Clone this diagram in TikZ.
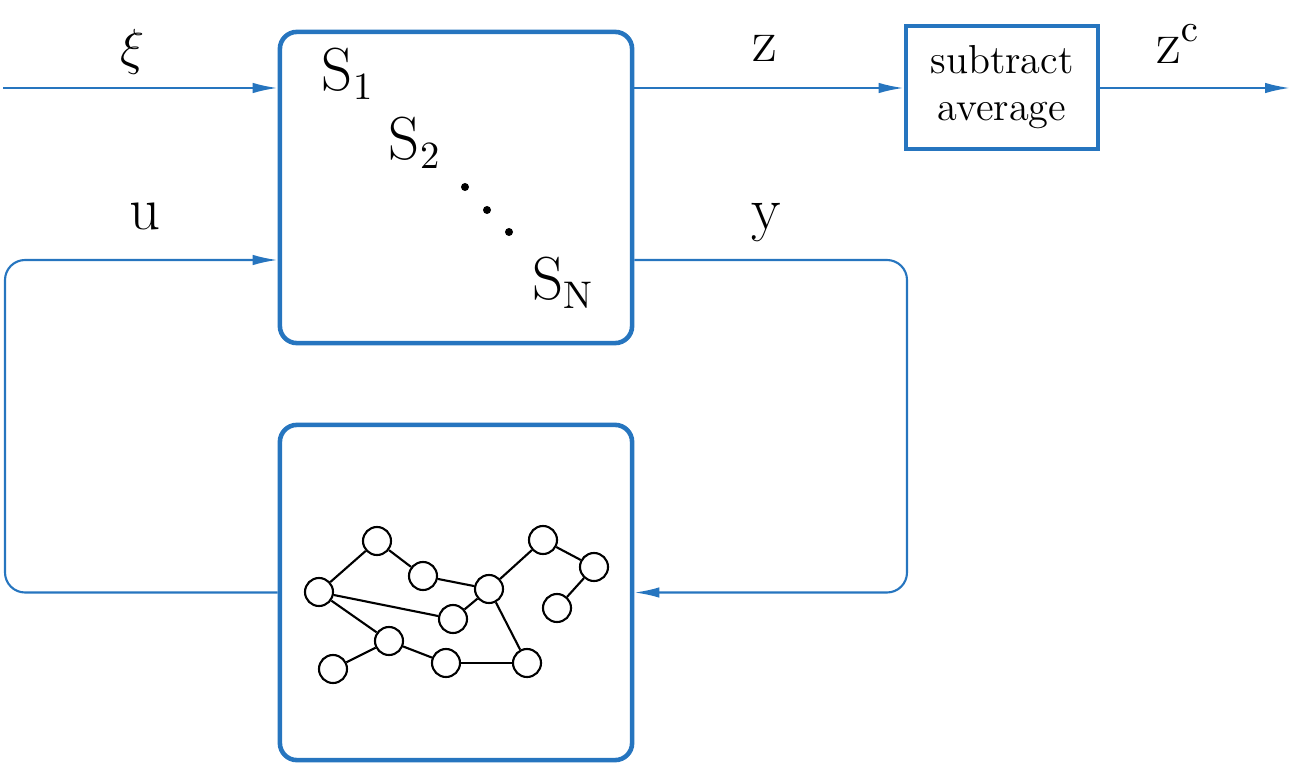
\documentclass[tikz,border=0pt]{standalone}
\usetikzlibrary{arrows.meta}
\definecolor{sigblue}{RGB}{38,117,191}
\begin{document}
\begin{tikzpicture}[x=0.01cm,y=-0.01cm,
    blockbox/.style={draw=sigblue,line width=1.3pt,rounded corners=0.17cm,minimum width=3.52cm,inner sep=0pt},
    sig/.style={draw=sigblue,line width=0.6pt,-{Latex[length=2.5mm,width=1.05mm]}},
    vertex/.style={circle,draw,line width=0.6pt,minimum size=0.28cm,inner sep=0pt,fill=white},
    dot/.style={circle,fill,inner sep=0pt,minimum size=0.08cm},
    lbl/.style={font=\fontsize{16}{19}\selectfont,inner sep=0pt}]
  \useasboundingbox (0,0) rectangle (1294,767);
  % Blocks
  \node[blockbox,minimum height=3.11cm] (sys) at (456,187.5) {};
  \node[blockbox,minimum height=3.35cm] (net) at (456,592.5) {};
  \node[draw=sigblue,line width=1.3pt,minimum width=1.92cm,minimum height=1.23cm,
        align=center,font=\fontsize{11.5}{13.4}\selectfont,inner sep=0pt] (avg) at (1002,87.5) {subtract\\ average};
  % Subsystems
  \node[lbl] (s1) at (348,74) {$\mathrm{S}_1$};
  \node[lbl] (s2) at (415,143) {$\mathrm{S}_2$};
  \node[dot] (d1) at (465,187) {};
  \node[dot] (d2) at (487,210) {};
  \node[dot] (d3) at (509,232) {};
  \node[lbl] (sn) at (563,283) {$\mathrm{S}_\mathrm{N}$};
  % Signal levels
  \coordinate (zlev) at (0,88);
  \coordinate (ylev) at (0,260);
  \coordinate (xiin) at (3,88);
  \coordinate (zcout) at (1290,88);
  \coordinate (uturn) at (5,425);
  \coordinate (yturn) at (907,425);
  % Signals
  \draw[sig] (xiin) -- (sys.west |- zlev);
  \draw[sig] (sys.east |- zlev) -- (avg.west |- zlev);
  \draw[sig] (avg.east |- zlev) -- (zcout);
  \draw[sig,rounded corners=0.2cm] (net.west) -| (uturn) |- (sys.west |- ylev);
  \draw[sig,rounded corners=0.2cm] (sys.east |- ylev) -| (yturn) |- (net.east);
  % Labels
  \node[lbl,font=\fontsize{14}{17}\selectfont] (xi) at (133,52) {$\xi$};
  \node[lbl] (u) at (145,216) {$\mathrm{u}$};
  \node[lbl] (z) at (765,48) {$\mathrm{z}$};
  \node[lbl] (y) at (767,222) {$\mathrm{y}$};
  \node[lbl] (zc) at (1178,44) {$\mathrm{z}^\mathrm{c}$};
  % Network graph
  \node[vertex] (1) at (377,541) {};
  \node[vertex] (2) at (423,576) {};
  \node[vertex] (3) at (319,592) {};
  \node[vertex] (4) at (489,589) {};
  \node[vertex] (5) at (453,619) {};
  \node[vertex] (6) at (543,540) {};
  \node[vertex] (7) at (594,567) {};
  \node[vertex] (8) at (557,608) {};
  \node[vertex] (9) at (389,641) {};
  \node[vertex] (10) at (333,669) {};
  \node[vertex] (11) at (446,663) {};
  \node[vertex] (12) at (527,663) {};
  % Edges
  \draw[line width=0.6pt] (3) -- (1);
  \draw[line width=0.6pt] (1) -- (2);
  \draw[line width=0.6pt] (2) -- (4);
  \draw[line width=0.6pt] (3) -- (5);
  \draw[line width=0.6pt] (5) -- (4);
  \draw[line width=0.6pt] (4) -- (6);
  \draw[line width=0.6pt] (6) -- (7);
  \draw[line width=0.6pt] (7) -- (8);
  \draw[line width=0.6pt] (3) -- (9);
  \draw[line width=0.6pt] (9) -- (10);
  \draw[line width=0.6pt] (9) -- (11);
  \draw[line width=0.6pt] (11) -- (12);
  \draw[line width=0.6pt] (12) -- (4);
\end{tikzpicture}
\end{document}
